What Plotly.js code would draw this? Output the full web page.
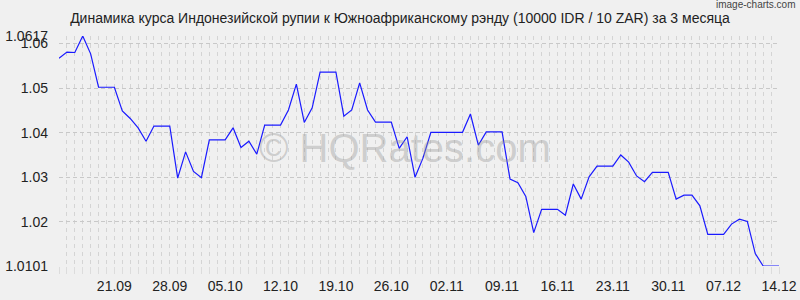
<!DOCTYPE html>
<html>
<head>
<meta charset="utf-8">
<script src="https://cdn.plot.ly/plotly-3.0.1.min.js"></script>
<style>html,body{margin:0;padding:0;background:#f0f0f0;}#chart{width:800px;height:300px;}</style>
</head>
<body>
<div id="chart"></div>
<script>
const dates = [
'2025-09-14','2025-09-15','2025-09-16','2025-09-17','2025-09-18','2025-09-19','2025-09-20','2025-09-21','2025-09-22','2025-09-23',
'2025-09-24','2025-09-25','2025-09-26','2025-09-27','2025-09-28','2025-09-29','2025-09-30',
'2025-10-01','2025-10-02','2025-10-03','2025-10-04','2025-10-05','2025-10-06','2025-10-07','2025-10-08','2025-10-09','2025-10-10',
'2025-10-11','2025-10-12','2025-10-13','2025-10-14','2025-10-15','2025-10-16','2025-10-17','2025-10-18','2025-10-19','2025-10-20',
'2025-10-21','2025-10-22','2025-10-23','2025-10-24','2025-10-25','2025-10-26','2025-10-27','2025-10-28','2025-10-29','2025-10-30','2025-10-31',
'2025-11-01','2025-11-02','2025-11-03','2025-11-04','2025-11-05','2025-11-06','2025-11-07','2025-11-08','2025-11-09','2025-11-10',
'2025-11-11','2025-11-12','2025-11-13','2025-11-14','2025-11-15','2025-11-16','2025-11-17','2025-11-18','2025-11-19','2025-11-20',
'2025-11-21','2025-11-22','2025-11-23','2025-11-24','2025-11-25','2025-11-26','2025-11-27','2025-11-28','2025-11-29','2025-11-30',
'2025-12-01','2025-12-02','2025-12-03','2025-12-04','2025-12-05','2025-12-06','2025-12-07','2025-12-08','2025-12-09','2025-12-10',
'2025-12-11','2025-12-12','2025-12-13','2025-12-14'
];
const rates = [
1.0567,1.0581,1.0580,1.0617,1.0577,1.0502,1.0502,1.0502,1.0449,1.0432,
1.0411,1.0381,1.0415,1.0415,1.0415,1.0298,1.0357,
1.0313,1.0299,1.0384,1.0384,1.0384,1.0411,1.0367,1.0381,1.0352,1.0417,
1.0417,1.0417,1.0451,1.0509,1.0423,1.0456,1.0536,1.0536,1.0536,1.0437,
1.0451,1.0512,1.0451,1.0424,1.0424,1.0424,1.0365,1.0391,1.0300,1.0343,1.0401,
1.0401,1.0401,1.0401,1.0401,1.0442,1.0372,1.0402,1.0402,1.0402,1.0296,
1.0288,1.0257,1.0176,1.0228,1.0228,1.0228,1.0215,1.0285,1.0251,1.0301,
1.0325,1.0325,1.0325,1.0350,1.0334,1.0303,1.0290,1.0311,1.0311,1.0311,
1.0251,1.0260,1.0260,1.0236,1.0172,1.0172,1.0172,1.0195,1.0206,1.0201,
1.0129,1.0101,1.0101,1.0101
];
const xTickVals = ['2025-09-21','2025-09-28','2025-10-05','2025-10-12','2025-10-19','2025-10-26','2025-11-02','2025-11-09','2025-11-16','2025-11-23','2025-11-30','2025-12-07','2025-12-14'];
const xTickText = ['21.09','28.09','05.10','12.10','19.10','26.10','02.11','09.11','16.11','23.11','30.11','07.12','14.12'];
const yTickVals = [1.0101,1.02,1.03,1.04,1.05,1.06,1.0617];
const yTickText = ['1.0101','1.02','1.03','1.04','1.05','1.06','1.0617'];
const titleText = 'Динамика курса Индонезийской рупии к Южноафриканскому рэнду (10000 IDR / 10 ZAR) за 3 месяца';

const gridCol = '#d4d4d4';
const trace = {
  x: dates, y: rates, type: 'scatter', mode: 'lines',
  line: {color: '#1a1aff', width: 1.2}, hoverinfo: 'skip'
};
const layout = {
  width: 800, height: 300,
  margin: {l: 59, r: 21, t: 36, b: 34},
  paper_bgcolor: '#f0f0f0', plot_bgcolor: '#f0f0f0',
  font: {family: 'Liberation Sans, Arial, sans-serif', size: 14, color: '#222'},
  showlegend: false,
  title: {text: titleText, x: 0.5, xanchor: 'center', y: 0.94, yanchor: 'middle', yref: 'container',
          font: {size: 14, color: '#222', family: 'Liberation Sans, Arial, sans-serif'}},
  xaxis: {
    type: 'date', range: [dates[0], dates[dates.length-1]],
    tickmode: 'array', tickvals: xTickVals, ticktext: xTickText,
    showgrid: true, gridcolor: gridCol, griddash: '4px,4px', gridwidth: 1,
    ticks: 'outside', ticklen: 7, tickcolor: '#dcdcdc', tickwidth: 1,
    minor: {dtick: 86400000, tick0: dates[0], showgrid: true, gridcolor: gridCol, griddash: '4px,4px', gridwidth: 1,
            ticks: 'outside', ticklen: 7, tickcolor: '#dcdcdc'},
    showline: false, zeroline: false, fixedrange: true,
    tickfont: {size: 14, color: '#222'}
  },
  yaxis: {
    range: [1.0101, 1.0617],
    tickmode: 'array', tickvals: yTickVals, ticktext: yTickText,
    showgrid: true, gridcolor: '#c8c8c8', griddash: '4px,3px', gridwidth: 1,
    ticks: '', ticklabelstandoff: 10,
    showline: false, zeroline: false, fixedrange: true,
    tickfont: {size: 14, color: '#222'}
  },
  annotations: [
    {text: '© HQRates.com', xref: 'paper', yref: 'paper', x: 0.48, y: 0.513, xanchor: 'center', yanchor: 'middle',
     showarrow: false, font: {size: 40, color: 'rgba(150,150,150,0.4)', family: 'Liberation Sans, Arial, sans-serif'}},
    {text: 'image-charts.com', xref: 'paper', yref: 'paper', x: 1.0255, y: 1.135, xanchor: 'right', yanchor: 'middle',
     showarrow: false, font: {size: 10, color: '#444', family: 'Liberation Sans Narrow, Liberation Sans, Arial, sans-serif'}}
  ]
};
Plotly.newPlot('chart', [trace], layout, {displayModeBar: false, staticPlot: true});
</script>
</body>
</html>
